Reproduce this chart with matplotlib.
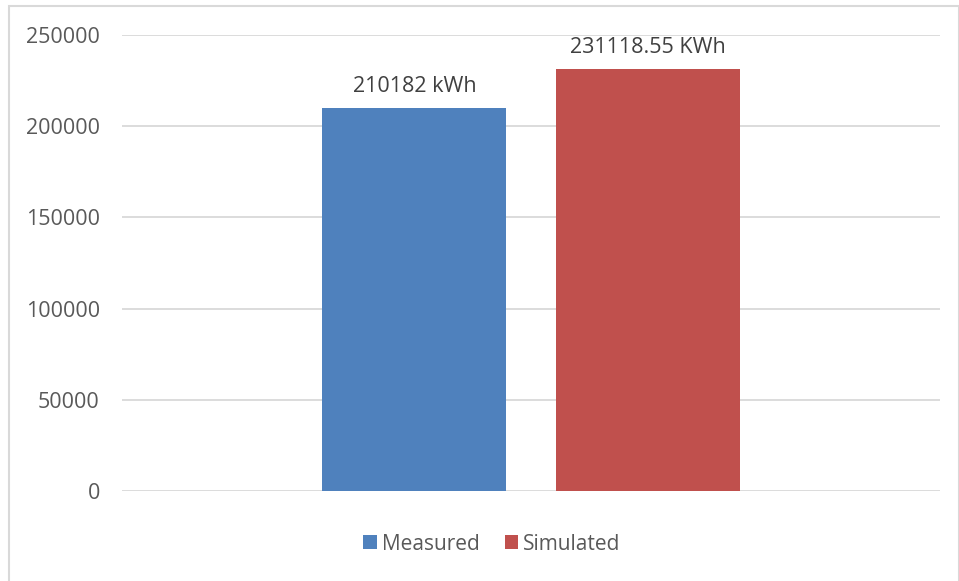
import matplotlib.pyplot as plt
from matplotlib.patches import Rectangle, Patch

# data
series = ['Measured', 'Simulated']
values = [210182, 231118.55]
value_labels = ['210182 kWh', '231118.55 KWh']
colors = ['#4f81bd', '#c0504d']
yticks = [0, 50000, 100000, 150000, 200000, 250000]

plt.rcParams['font.family'] = ['Open Sans', 'DejaVu Sans']

fig = plt.figure(figsize=(9.59, 5.81), dpi=100)
ax = fig.add_axes([122 / 959, 90 / 581, 818 / 959, 456 / 581])

offsets = [-0.1425, 0.1425]
bars = ax.bar(offsets, values, width=0.225, color=colors, zorder=3)

for b, lab in zip(bars, value_labels):
    ax.annotate(lab, (b.get_x() + b.get_width() / 2, b.get_height()),
                xytext=(0, 8), textcoords='offset points',
                ha='center', va='bottom', fontsize=15.5, color='#404040')

ax.set_xlim(-0.5, 0.5)
ax.set_ylim(0, 250000)
ax.set_yticks(yticks)
ax.set_yticklabels([str(t) for t in yticks])
ax.set_xticks([])
ax.tick_params(axis='y', length=0, pad=16, labelsize=15.5, labelcolor='#595959')
ax.grid(axis='y', color='#d9d9d9', linewidth=1.3, zorder=0)
for s in ax.spines.values():
    s.set_visible(False)

handles = [Patch(facecolor=c, label=s) for c, s in zip(colors, series)]
fig.legend(handles=handles, loc='center', bbox_to_anchor=(492 / 959, 1 - 544 / 581),
           ncol=2, frameon=False, fontsize=15, labelcolor='#595959',
           handlelength=0.65, handleheight=0.65, handletextpad=0.25, columnspacing=1.2)

# outer chart border
fig.patches.append(Rectangle((9 / 959, -0.02), (958.5 - 9) / 959, 1 - 6 / 581 + 0.02,
                             transform=fig.transFigure, fill=False,
                             edgecolor='#d9d9d9', linewidth=1.5))

fig.savefig('out.png', dpi=100)
